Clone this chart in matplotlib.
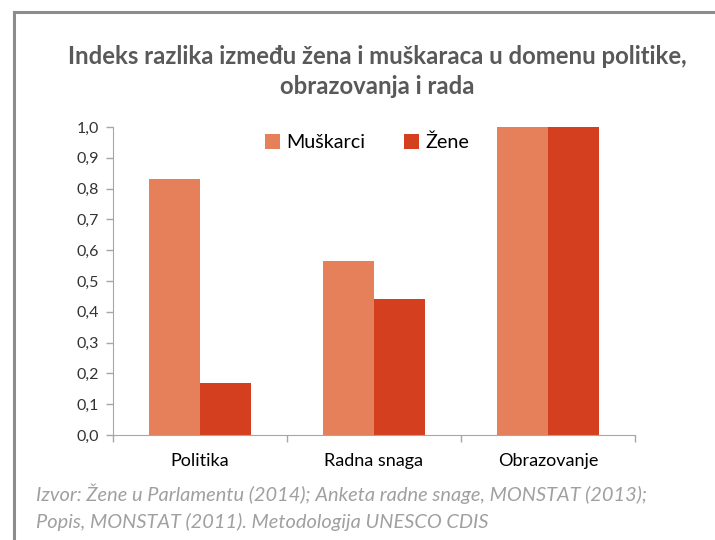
import matplotlib.pyplot as plt
import numpy as np
from matplotlib.ticker import FixedLocator, FuncFormatter

categories = ['Politika', 'Radna snaga', 'Obrazovanje']
muskarci = [0.83, 0.566, 1.0]
zene = [0.17, 0.443, 1.0]
series_names = ['Muškarci', 'Žene']
y_ticks = [0.0, 0.1, 0.2, 0.3, 0.4, 0.5, 0.6, 0.7, 0.8, 0.9, 1.0]

c_m = '#E5805A'
c_z = '#D33F1F'
axis_gray = '#A6A6A6'
font = 'Lato'

fig = plt.figure(figsize=(7.15, 5.4), dpi=100)
fig.patch.set_facecolor('white')

# outer frame (left and top only are visible in the reference)
fig.add_artist(plt.Line2D([14 / 715, 14 / 715], [0, 1 - 12 / 540], transform=fig.transFigure,
                          color='#8C8C8C', lw=2.2))
fig.add_artist(plt.Line2D([14 / 715, 1], [1 - 12 / 540, 1 - 12 / 540], transform=fig.transFigure,
                          color='#8C8C8C', lw=2.2))

ax = fig.add_axes([113 / 715, 105 / 540, 522 / 715, 308 / 540])
x = np.arange(len(categories))
w = 0.293
ax.bar(x - w / 2, muskarci, w, color=c_m, label=series_names[0])
ax.bar(x + w / 2, zene, w, color=c_z, label=series_names[1])

ax.set_xlim(-0.5, len(categories) - 0.5)
ax.set_ylim(0, 1.0)
ax.set_yticks(y_ticks)
ax.yaxis.set_major_formatter(FuncFormatter(lambda v, p: f'{v:.1f}'.replace('.', ',')))
ax.set_xticks(x)
ax.set_xticklabels(categories, fontfamily=font, fontsize=13)
ax.xaxis.set_minor_locator(FixedLocator(np.arange(-0.5, len(categories), 1.0)))
ax.tick_params(axis='x', which='major', length=0, pad=13)
ax.tick_params(axis='x', which='minor', length=5, color=axis_gray, width=1)
ax.tick_params(axis='y', length=5, color=axis_gray, width=1, pad=5, labelsize=11.5)
for lab in ax.get_yticklabels():
    lab.set_fontfamily(font)
    lab.set_color('#333333')

for s in ['top', 'right']:
    ax.spines[s].set_visible(False)
ax.spines['left'].set_color(axis_gray)
ax.spines['bottom'].set_color(axis_gray)

leg = ax.legend(loc='upper center', bbox_to_anchor=(0.487, 1.035), ncol=2, frameon=False,
                prop={'family': font, 'size': 14.2}, handlelength=0.75, handleheight=0.75,
                handletextpad=0.3, columnspacing=2.0)

fig.text(377 / 715, 1 - 57 / 540, 'Indeks razlika između žena i muškaraca u domenu politike,',
         ha='center', va='center', fontsize=17.2, fontweight='bold', color='#595959', fontfamily=font)
fig.text(377 / 715, 1 - 87 / 540, 'obrazovanja i rada',
         ha='center', va='center', fontsize=17.2, fontweight='bold', color='#595959', fontfamily=font)

fig.text(36 / 715, 1 - 494 / 540, 'Izvor: Žene u Parlamentu (2014); Anketa radne snage, MONSTAT (2013);',
         ha='left', va='center', fontsize=14.4, style='italic', color='#A0A0A0', fontfamily=font)
fig.text(36 / 715, 1 - 522 / 540, 'Popis, MONSTAT (2011). Metodologija UNESCO CDIS',
         ha='left', va='center', fontsize=14.4, style='italic', color='#A0A0A0', fontfamily=font)

fig.savefig('out.png', dpi=100)
